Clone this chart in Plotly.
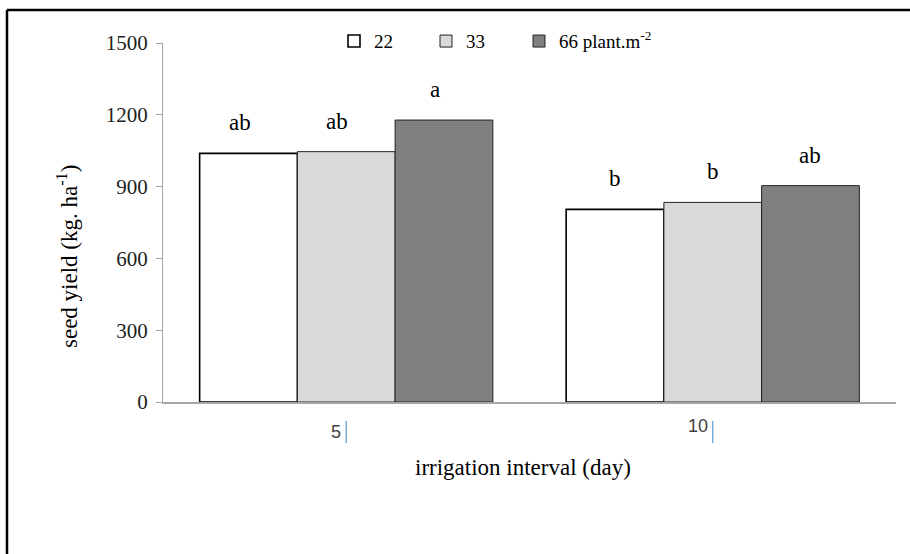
import plotly.graph_objects as go

# ---- data ----
categories = ["5", "10"]
series_names = ["22", "33", "66 plant.m<sup>-2</sup>"]
values_22 = [1039, 805]
values_33 = [1046, 834]
values_66 = [1178, 904]
letters_22 = ["ab", "b"]
letters_33 = ["ab", "b"]
letters_66 = ["a", "ab"]
y_ticks = [0, 300, 600, 900, 1200, 1500]

# ---- styles ----
SERIF = "Liberation Serif"
fills = ["#ffffff", "#d9d9d9", "#808080"]
edges = [("#000000", 1.6), ("#222222", 1), ("#222222", 1)]
W, H = 910, 554
ML, MR, MT, MB = 163, 14, 43, 152
BARGAP = 0.2
legend_text_x = [371, 463, 556]   # pixel x where each legend label starts

fig = go.Figure()
all_vals = [values_22, values_33, values_66]
all_letters = [letters_22, letters_33, letters_66]
legend_ids = ["legend", "legend2", "legend3"]
for name, vals, fc, (lc, lw), lid in zip(series_names, all_vals, fills, edges, legend_ids):
    fig.add_trace(go.Bar(
        x=categories, y=vals, name=name, legend=lid,
        marker=dict(color=fc, line=dict(color=lc, width=lw)),
        hoverinfo="skip",
    ))

# bar letters placed above each bar, offsets derived from layout geometry
pw = W - ML - MR
cat_w = pw / len(categories)
bar_w = cat_w * (1 - BARGAP) / len(series_names)
group_nudge = [-9, 0]
annotations = []
for si, (vals, labs) in enumerate(zip(all_vals, all_letters)):
    for ci, (v, lab) in enumerate(zip(vals, labs)):
        annotations.append(dict(
            x=ci, y=v, xref="x", yref="y", text=lab, showarrow=False,
            xanchor="center", yanchor="bottom",
            xshift=(si - 1) * bar_w + group_nudge[ci], yshift=16,
            font=dict(family=SERIF, size=23, color="#000000"),
        ))

# category labels (sans, right-aligned at category center) + blue markers
cat_label_y = [-0.083, -0.066]
shapes = []
for ci, (cat, yy) in enumerate(zip(categories, cat_label_y)):
    annotations.append(dict(
        x=ci, y=yy, xref="x", yref="paper", text=cat, showarrow=False,
        xanchor="right", yanchor="middle", xshift=-3,
        font=dict(family="Liberation Sans", size=18, color="#404040"),
    ))
    shapes.append(dict(type="line", xref="x", yref="paper", x0=ci, x1=ci,
                       y0=-(443 - 402) / 359, y1=-(421 - 402) / 359,
                       line=dict(color="#5b9bd5", width=1.2)))

annotations.append(dict(
    x=(523 - ML) / pw, y=-(467 - 402) / 359, xref="paper", yref="paper",
    text="irrigation interval (day)", showarrow=False,
    xanchor="center", yanchor="middle",
    font=dict(family=SERIF, size=23, color="#000000"),
))
annotations.append(dict(
    x=(67 - ML) / pw, y=(402 - 257) / 359, xref="paper", yref="paper",
    text="seed yield (kg. ha<sup>-1</sup>)", showarrow=False, textangle=-90,
    xanchor="center", yanchor="middle",
    font=dict(family=SERIF, size=23, color="#000000"),
))

# outer frame (left and top edges)
shapes.append(dict(type="line", xref="paper", yref="paper",
                   x0=(7 - ML) / pw, x1=(7 - ML) / pw,
                   y0=(402 - 10) / 359, y1=-(600 - 402) / 359,
                   line=dict(color="#000000", width=2.5)))
shapes.append(dict(type="line", xref="paper", yref="paper",
                   x0=(7 - ML) / pw, x1=(930 - ML) / pw,
                   y0=(402 - 10) / 359, y1=(402 - 10) / 359,
                   line=dict(color="#000000", width=2.5)))

legend_common = dict(orientation="h", xanchor="left", y=1.005, yanchor="middle",
                     font=dict(family=SERIF, size=19, color="#000000"),
                     itemwidth=30, bgcolor="rgba(0,0,0,0)")
legend_layout = {}
for lid, tx in zip(legend_ids, legend_text_x):
    legend_layout[lid] = dict(legend_common, x=(tx - 37 - ML) / pw)

fig.update_layout(
    width=W, height=H,
    margin=dict(l=ML, r=MR, t=MT, b=MB),
    paper_bgcolor="#ffffff", plot_bgcolor="#ffffff",
    barmode="group", bargap=BARGAP, bargroupgap=0,
    showlegend=True,
    xaxis=dict(type="category", range=[-0.5, 1.5], showticklabels=False,
               ticks="", showline=True, linecolor="#a6a6a6", linewidth=1.5,
               showgrid=False, zeroline=False),
    yaxis=dict(range=[0, 1500], tickvals=y_ticks, ticks="outside", ticklen=6,
               tickcolor="#a6a6a6", showline=True, linecolor="#a6a6a6",
               linewidth=1.2, showgrid=False, zeroline=False,
               ticklabelstandoff=4,
               tickfont=dict(family=SERIF, size=21, color="#222222")),
    annotations=annotations,
    shapes=shapes,
    **legend_layout,
)

fig.write_html("out.html", config={"displayModeBar": False},
               post_script="document.body.style.margin='0';")
